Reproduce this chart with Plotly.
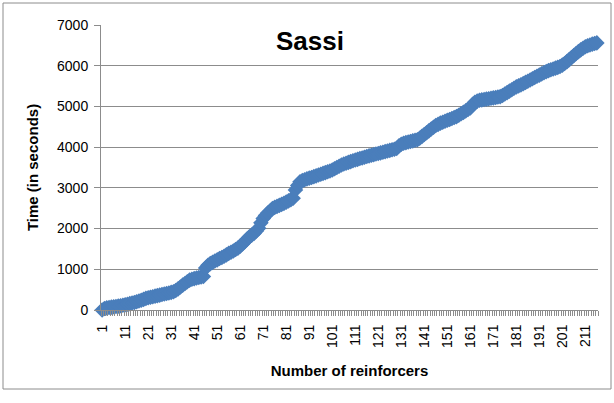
import plotly.graph_objects as go

title_text = "Sassi"
x_title = "Number of reinforcers"
y_title = "Time (in seconds)"

# Reinforcer number (1..216)
reinforcers = list(range(1, 217))

# Cumulative time (seconds)
time_s = [
    0, 38, 52, 61, 70, 78, 86, 95, 104, 115,
    128, 142, 156, 171, 186, 203, 220, 240, 262, 285,
    300, 312, 326, 340, 352, 366, 380, 393, 405, 418,
    433, 450, 480, 520, 565, 610, 650, 695, 735, 755,
    770, 785, 798, 810, 822, 1030, 1100, 1140, 1170, 1205,
    1230, 1265, 1290, 1320, 1355, 1390, 1420, 1450, 1485, 1520,
    1570, 1620, 1680, 1740, 1800, 1840, 1880, 1940, 2010, 2140,
    2250, 2320, 2380, 2430, 2490, 2520, 2545, 2570, 2595, 2620,
    2650, 2680, 2710, 2745, 2950, 3060, 3150, 3180, 3200, 3220,
    3240, 3255, 3275, 3295, 3315, 3335, 3355, 3375, 3395, 3415,
    3440, 3470, 3500, 3530, 3560, 3585, 3605, 3625, 3645, 3665,
    3685, 3700, 3720, 3735, 3752, 3770, 3785, 3800, 3815, 3830,
    3845, 3860, 3875, 3890, 3905, 3920, 3935, 3950, 3970, 4030,
    4070, 4095, 4110, 4125, 4140, 4155, 4168, 4180, 4220, 4265,
    4310, 4355, 4400, 4445, 4490, 4530, 4560, 4590, 4610, 4635,
    4660, 4680, 4705, 4728, 4750, 4785, 4820, 4855, 4890, 4925,
    4960, 5050, 5100, 5130, 5150, 5160, 5170, 5180, 5190, 5200,
    5210, 5220, 5230, 5240, 5270, 5305, 5340, 5375, 5410, 5445,
    5480, 5505, 5530, 5560, 5590, 5620, 5650, 5680, 5710, 5740,
    5770, 5800, 5830, 5855, 5880, 5900, 5920, 5940, 5960, 5980,
    6015, 6055, 6100, 6150, 6200, 6250, 6300, 6345, 6390, 6430,
    6465, 6490, 6510, 6530, 6545, 6560,
]

x_tick_vals = list(range(1, 217, 10))
x_tick_text = [str(v) for v in x_tick_vals]
y_tick_vals = [0, 1000, 2000, 3000, 4000, 5000, 6000, 7000]

BLUE = "#4A7EBB"
GRID = "#8C8C8C"
FONT = "Liberation Sans"

fig = go.Figure()
fig.add_trace(go.Scatter(
    x=reinforcers, y=time_s,
    mode="lines+markers",
    line=dict(color=BLUE, width=3),
    marker=dict(symbol="diamond", size=12, color=BLUE, line=dict(width=0)),
    showlegend=False,
    cliponaxis=False,
))

L, R, T, B = 101, 16, 25, 93
W, H = 614, 403
pw, ph = W - L - R, H - T - B

def px_x(px):
    return (px - L) / pw

def px_y(py):
    return (H - B - py) / ph

fig.add_shape(type="rect", xref="paper", yref="paper",
              x0=px_x(3), x1=px_x(611), y0=px_y(389), y1=px_y(3),
              line=dict(color="#8C8C8C", width=1), fillcolor="rgba(0,0,0,0)",
              layer="below")

fig.update_layout(
    width=W, height=H,
    margin=dict(l=L, r=R, t=T, b=B, autoexpand=False),
    paper_bgcolor="white", plot_bgcolor="white",
    font=dict(family=FONT, size=14, color="black"),
    title=dict(text="<b>" + title_text + "</b>", x=px_x(310), xref="paper",
               xanchor="center", y=1 - 41 / H, yanchor="middle",
               font=dict(size=26, family=FONT)),
    xaxis=dict(
        range=[0.5, 216.5], automargin=False,
        tickmode="array", tickvals=x_tick_vals, ticktext=x_tick_text,
        tickangle=-90, ticks="outside", ticklen=0, tickcolor=GRID,
        showgrid=False, showline=True, linecolor=GRID, linewidth=1,
        zeroline=False,
        tickfont=dict(size=14),
        ticklabelstandoff=8,
        minor=dict(tick0=0.5, dtick=1, ticks="outside", ticklen=5,
                   tickcolor=GRID, showgrid=False),
        title=dict(text="<b>" + x_title + "</b>", font=dict(size=15), standoff=18),
    ),
    yaxis=dict(
        range=[0, 7000], automargin=False,
        tickmode="array", tickvals=y_tick_vals,
        ticks="outside", ticklen=6, tickcolor=GRID,
        showgrid=True, gridcolor=GRID, gridwidth=1,
        showline=True, linecolor=GRID, linewidth=1,
        zeroline=False,
        tickfont=dict(size=14),
        ticklabelstandoff=3,
        title=dict(text="<b>" + y_title + "</b>", font=dict(size=15), standoff=14),
    ),
)

fig.write_html("out.html", config={"displayModeBar": False},
               post_script="document.body.style.margin='0';")
